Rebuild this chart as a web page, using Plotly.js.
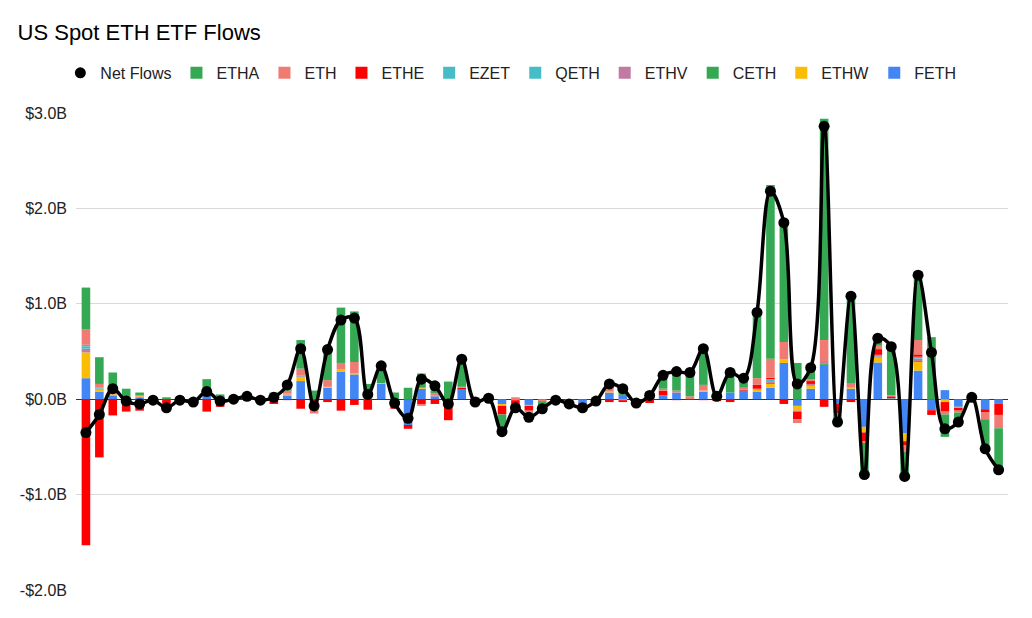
<!DOCTYPE html>
<html>
<head>
<meta charset="utf-8">
<script src="https://cdn.plot.ly/plotly-3.0.1.min.js"></script>
<style>
html,body{margin:0;padding:0;background:#fff;}
#chart{width:1032px;height:618px;}
</style>
</head>
<body>
<div id="chart"></div>
<script>
// Weekly flows, billions USD (index 0 = first week)
const weeks = Array.from({length: 69}, (_, i) => i);

const netFlows = [
 -0.35,-0.16,0.11,-0.02,-0.05,-0.01,-0.09,-0.01,-0.03,0.08,
 -0.02,0.00,0.03,-0.01,0.02,0.15,0.53,-0.07,0.52,0.83,
 0.85,0.05,0.35,-0.04,-0.20,0.21,0.14,-0.05,0.42,-0.03,
 0.01,-0.34,-0.09,-0.19,-0.10,-0.01,-0.05,-0.09,-0.02,0.16,
 0.11,-0.04,0.04,0.25,0.29,0.28,0.53,0.03,0.28,0.22,
 0.91,2.18,1.85,0.16,0.33,2.86,-0.24,1.08,-0.79,0.64,
 0.55,-0.81,1.30,0.49,-0.31,-0.24,0.02,-0.52,-0.74];

const ETHA = [
 0.44,0.28,0.22,0.10,0.03,0.01,0.02,0.01,0,0.17,
 0.05,0.01,0.03,0,0.06,0.05,0.30,0.09,0.33,0.58,
 0.53,0.15,0.14,0.07,0.12,0.15,0.12,0.185,0.29,0.02,
 0.01,-0.17,-0.04,-0.06,-0.07,0.01,0,0,0,0.02,
 0.05,0,0.06,0.13,0.21,0.25,0.39,0.05,0.24,0.10,
 0.71,1.82,1.28,0.38,0.12,2.32,-0.09,0.92,-0.33,0.08,
 0.52,-0.25,0.72,0.65,-0.235,-0.10,0.04,-0.30,-0.42];

const ETH = [
 0.16,0.04,0.01,0,0.01,0,0,0,0,0,
 0,0,0,0,0,0.03,0.07,-0.04,0.07,0.07,
 0.12,0,0,0,0,-0.02,0.02,0,0.01,0,
 0,0,0.02,-0.02,-0.02,0,0,0,0,0.04,
 0,0,0,0.02,0.02,0.03,0.06,0,0,0.02,
 0.07,0.20,0.18,-0.04,0.02,0.22,0,0.05,-0.02,0.035,
 0.01,-0.07,0.15,0,-0.03,-0.02,0,-0.07,-0.14];

const ETHE = [
 -1.53,-0.61,-0.17,-0.13,-0.12,-0.02,-0.10,-0.02,-0.03,-0.13,
 -0.08,-0.01,0,-0.01,-0.05,-0.01,-0.10,-0.11,-0.03,-0.12,
 -0.06,-0.11,0,-0.10,-0.04,-0.05,-0.05,-0.22,0.02,-0.05,
 0,-0.09,-0.06,-0.05,0,-0.02,-0.03,-0.03,-0.02,-0.03,
 -0.02,-0.04,-0.04,0.05,-0.01,0,-0.01,-0.02,-0.03,0.01,
 0.04,0.015,-0.05,-0.08,0.03,-0.08,-0.10,-0.03,-0.09,0.06,
 0.02,-0.04,0.025,-0.05,-0.10,-0.03,-0.02,-0.035,-0.12];

const EZET = [
 0.02,0.005,0,0,0,0,0,0,0,0,
 0,0,0,0,0,0,0.01,0,0,0,
 0,0,0,0,0,0,0,0,0,0,
 0,0,0,0,0,0,0,0,0,0,
 0,0,0,0,0,0,0,0,0,0,
 0,0.02,0,0,0,0,0,0,0,0.015,
 0.01,0,0.02,0,0,0,0,0,0];

const QETH = [
 0.02,0.005,0,0,0,0,0,0,0,0,
 0,0,0,0,0,0,0,0,0,0,
 0,0,0,0,0,0,0,0,0,0,
 0,0,0,0,0,0,0,0,0,0,
 0,0,0,0,0,0,0,0,0,0,
 0,0.01,0,0,0,0,0,0,0,0,
 0,0,0,0,0,0,0,0,0];

const ETHV = [
 0.04,0.01,0,0,0,0,0,0,0,0,
 0,0,0,0,0,0.01,0.01,0,0,0,
 0,0,0,0,0,0,0.01,0,0,0,
 0,0,0,0,0,0,0,0,0,0,
 0,0,0,0,0,0,0,0,0,0,
 0.01,0.01,0,-0.01,0.02,0.03,0,0,-0.01,0.015,
 0,0,0.025,0,0,0,0,0,0];

const CETH = [
 0,0,0,0,0,0,0,0,0,0,
 0,0,0,0,0,0,0,0,0,0,
 0,0,0,0,0,0,0,0,0,0,
 0,0,0,0,0,0,0,0,0,0,
 0,0,0,0,0,0,0,0,0,0,
 0,0.01,0,0,0,0.01,0,0,0,0,
 0,0,0.01,0,0,0,0,0,0];

const ETHW = [
 0.27,0.02,0.01,0,0.01,0,0,0,0,0,
 0,0,0,0,0,0.01,0.04,0,0.01,0.02,
 0.01,0.01,0.01,0,0,0.01,0,0,0,0,
 0,-0.02,-0.01,-0.01,0,0,0,0,0,0.01,
 -0.01,0,0,0,0,0,0.01,0,0,0,
 0.02,0.04,0.04,-0.05,0.03,0,0,0.01,-0.05,0.05,
 0,-0.08,0.09,0,-0.03,-0.01,0,0,0];

const FETH = [
 0.22,0.08,0.04,0.01,0.02,0,0,0,0,0.04,
 0,0,0,0,0.01,0.04,0.19,0,0.12,0.29,
 0.26,0,0.16,0,-0.27,0.11,0.03,0,0.10,0,
 0,-0.05,0,-0.06,0,0,-0.02,-0.04,0,0.07,
 0.045,0,0.02,0.04,0.07,0,0.08,0,0.07,0.09,
 0.08,0.12,0.38,-0.07,0.11,0.36,-0.05,0.11,-0.29,0.385,
 0,-0.36,0.30,-0.115,0.095,-0.08,0,-0.105,-0.045];

const yTickVals = [-2, -1, 0, 1, 2, 3];
const yTickText = ['-$2.0B', '-$1.0B', '$0.0B', '$1.0B', '$2.0B', '$3.0B'];

// stacking order: first trace sits next to zero
const barSeries = [
  {name: 'FETH', y: FETH, color: '#4285f4', rank: 10},
  {name: 'ETHW', y: ETHW, color: '#fbbc04', rank: 9},
  {name: 'CETH', y: CETH, color: '#34a853', rank: 8},
  {name: 'ETHV', y: ETHV, color: '#c27ba0', rank: 7},
  {name: 'QETH', y: QETH, color: '#46bdc6', rank: 6},
  {name: 'EZET', y: EZET, color: '#46bdc6', rank: 5},
  {name: 'ETHE', y: ETHE, color: '#ff0000', rank: 4},
  {name: 'ETH',  y: ETH,  color: '#f07b72', rank: 3},
  {name: 'ETHA', y: ETHA, color: '#34a853', rank: 2}
];

const FONT = 'Liberation Sans, Arial, sans-serif';

const traces = barSeries.map(s => ({
  type: 'bar', x: weeks, y: s.y, name: s.name,
  marker: {color: s.color, line: {width: 0}},
  legendrank: s.rank, hoverinfo: 'name+y'
}));

traces.push({
  type: 'scatter', mode: 'lines+markers', x: weeks, y: netFlows,
  name: 'Net Flows', showlegend: false,
  line: {color: '#000000', width: 3.5, shape: 'spline', smoothing: 1},
  marker: {color: '#000000', size: 11}
});
traces.push({
  type: 'scatter', mode: 'markers', x: [null], y: [null],
  name: 'Net Flows', legendrank: 1,
  marker: {color: '#000000', size: 11}
});

const layout = {
  width: 1032, height: 618,
  paper_bgcolor: '#ffffff', plot_bgcolor: '#ffffff',
  font: {family: FONT, color: '#222222', size: 16},
  title: {text: 'US Spot ETH ETF Flows', x: 0.017, xanchor: 'left', xref: 'container',
          y: 0.948, yanchor: 'middle', font: {family: FONT, size: 22, color: '#000000'}},
  margin: {l: 76, r: 24, t: 113, b: 28},
  barmode: 'relative', bargap: 0.36,
  showlegend: true,
  legend: {orientation: 'h', xref: 'container', x: 0.495, xanchor: 'center',
           yref: 'container', y: 0.882, yanchor: 'middle',
           font: {family: FONT, size: 16, color: '#222222'},
           itemwidth: 30, traceorder: 'normal'},
  xaxis: {range: [-0.74, 68.7], showticklabels: false, showgrid: false,
          zeroline: false, ticks: '', showline: false, fixedrange: true},
  yaxis: {range: [-2, 3], tickvals: yTickVals, ticktext: yTickText,
          showgrid: true, gridcolor: '#d9d9d9', gridwidth: 1,
          zeroline: true, zerolinecolor: '#333333', zerolinewidth: 1,
          ticks: '', ticklabelstandoff: 8, tickfont: {family: FONT, size: 16, color: '#222222'},
          fixedrange: true}
};

Plotly.newPlot('chart', traces, layout, {displayModeBar: false, staticPlot: true});
</script>
</body>
</html>
